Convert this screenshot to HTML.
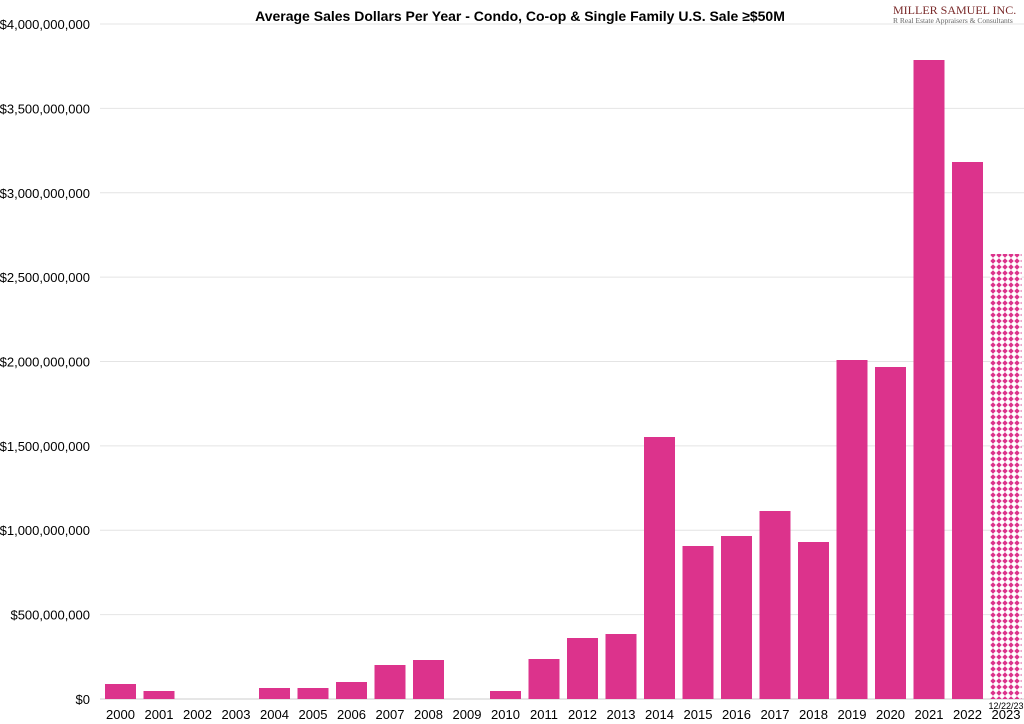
<!DOCTYPE html>
<html><head><meta charset="utf-8"><style>body{margin:0;background:#fff}svg{display:block}</style></head><body>
<svg width="1024" height="724" xmlns="http://www.w3.org/2000/svg" font-family="Liberation Sans, Arial, sans-serif">
<defs><pattern id="dots" width="6" height="6" patternUnits="userSpaceOnUse"><rect width="6" height="6" fill="#fff"/><path d="M3 0.3 L5.7 3 L3 5.7 L0.3 3Z" fill="#dc338c"/></pattern></defs>
<g stroke="#e4e4e4" stroke-width="1">
<line x1="100" x2="1024" y1="614.6" y2="614.6"/><line x1="100" x2="1024" y1="530.2" y2="530.2"/><line x1="100" x2="1024" y1="445.9" y2="445.9"/><line x1="100" x2="1024" y1="361.5" y2="361.5"/><line x1="100" x2="1024" y1="277.1" y2="277.1"/><line x1="100" x2="1024" y1="192.8" y2="192.8"/><line x1="100" x2="1024" y1="108.4" y2="108.4"/><line x1="100" x2="1024" y1="24" y2="24"/>
</g>
<line x1="100" x2="1024" y1="699" y2="699" stroke="#ccc"/>
<g font-size="13" fill="#000" text-anchor="end">
<text x="90" y="704">$0</text><text x="90" y="619.6">$500,000,000</text><text x="90" y="535.2">$1,000,000,000</text><text x="90" y="450.9">$1,500,000,000</text><text x="90" y="366.5">$2,000,000,000</text><text x="90" y="282.1">$2,500,000,000</text><text x="90" y="197.8">$3,000,000,000</text><text x="90" y="113.4">$3,500,000,000</text><text x="90" y="29">$4,000,000,000</text>
</g>
<g fill="#dc338c">
<rect x="105" y="684" width="31" height="15"/>
<rect x="143.5" y="691" width="31" height="8"/>
<rect x="259" y="688" width="31" height="11"/>
<rect x="297.5" y="688" width="31" height="11"/>
<rect x="336" y="682" width="31" height="17"/>
<rect x="374.5" y="665" width="31" height="34"/>
<rect x="413" y="660" width="31" height="39"/>
<rect x="490" y="691" width="31" height="8"/>
<rect x="528.5" y="659" width="31" height="40"/>
<rect x="567" y="638" width="31" height="61"/>
<rect x="605.5" y="634" width="31" height="65"/>
<rect x="644" y="437" width="31" height="262"/>
<rect x="682.5" y="546" width="31" height="153"/>
<rect x="721" y="536" width="31" height="163"/>
<rect x="759.5" y="511" width="31" height="188"/>
<rect x="798" y="542" width="31" height="157"/>
<rect x="836.5" y="360" width="31" height="339"/>
<rect x="875" y="367" width="31" height="332"/>
<rect x="913.5" y="60" width="31" height="639"/>
<rect x="952" y="162" width="31" height="537"/>
</g>
<rect x="990.5" y="254" width="31" height="445" fill="url(#dots)"/>
<g font-size="13" fill="#000" text-anchor="middle">
<text x="120.5" y="719">2000</text><text x="159" y="719">2001</text><text x="197.5" y="719">2002</text><text x="236" y="719">2003</text><text x="274.5" y="719">2004</text><text x="313" y="719">2005</text><text x="351.5" y="719">2006</text><text x="390" y="719">2007</text><text x="428.5" y="719">2008</text><text x="467" y="719">2009</text><text x="505.5" y="719">2010</text><text x="544" y="719">2011</text><text x="582.5" y="719">2012</text><text x="621" y="719">2013</text><text x="659.5" y="719">2014</text><text x="698" y="719">2015</text><text x="736.5" y="719">2016</text><text x="775" y="719">2017</text><text x="813.5" y="719">2018</text><text x="852" y="719">2019</text><text x="890.5" y="719">2020</text><text x="929" y="719">2021</text><text x="967.5" y="719">2022</text><text x="1006" y="719">2023</text>
</g>
<text x="1006" y="709" font-size="9" text-anchor="middle">12/22/23</text>
<text x="520" y="21" font-size="14" font-weight="bold" text-anchor="middle">Average Sales Dollars Per Year - Condo, Co-op &amp; Single Family U.S.  Sale ≥$50M</text>
<text x="893" y="14" font-family="Liberation Serif, serif" font-size="12" fill="#7a2a2a">MILLER SAMUEL INC.</text>
<text x="893" y="23" font-family="Liberation Serif, serif" font-size="7.5" fill="#666">R Real Estate Appraisers &amp; Consultants</text>
</svg>
</body></html>
